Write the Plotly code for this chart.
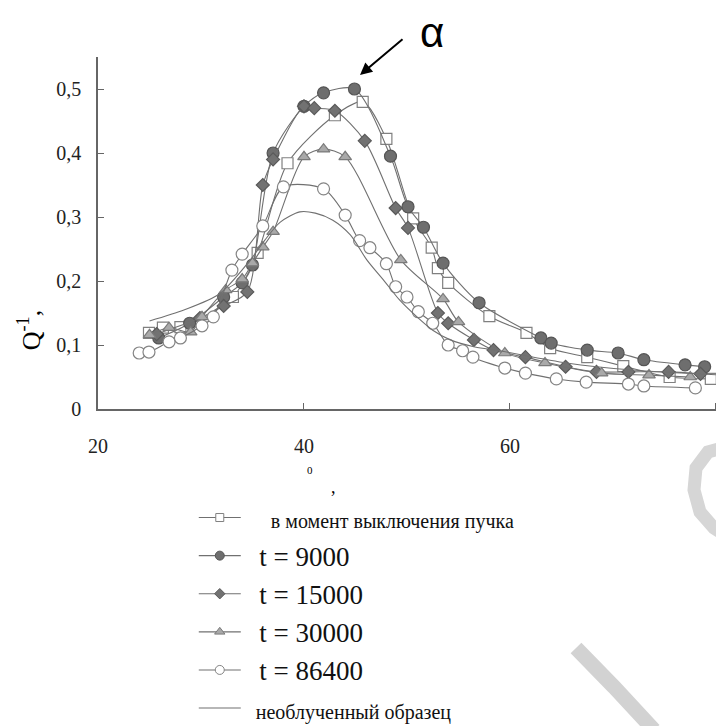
import plotly.graph_objects as go

# ---------------- data ----------------
sq_x = [24.95, 26.3, 28.0, 33.1, 35.5, 38.4, 43.0, 45.7, 48.0, 50.6, 52.4, 53.0, 54.0, 58.0, 61.6, 63.9, 67.5, 71.0, 75.5, 79.5]
sq_y = [0.119, 0.127, 0.128, 0.175, 0.244, 0.384, 0.459, 0.480, 0.422, 0.298, 0.252, 0.220, 0.197, 0.145, 0.119, 0.095, 0.081, 0.067, 0.050, 0.047]

c9_x = [25.9, 28.9, 32.2, 34.0, 35.0, 37.0, 40.0, 41.9, 44.9, 48.4, 50.1, 51.6, 53.5, 57.0, 63.0, 64.0, 67.5, 70.5, 73.0, 77.0, 78.9]
c9_y = [0.111, 0.134, 0.175, 0.197, 0.225, 0.400, 0.473, 0.494, 0.500, 0.395, 0.316, 0.284, 0.228, 0.166, 0.111, 0.103, 0.092, 0.0875, 0.077, 0.069, 0.066]

d15_x = [25.7, 29.9, 32.2, 34.5, 36.0, 37.0, 40.0, 41.0, 43.0, 45.9, 48.9, 50.1, 53.0, 54.0, 56.5, 58.4, 61.5, 65.4, 68.4, 71.5, 75.4, 78.5]
d15_y = [0.117, 0.142, 0.161, 0.183, 0.350, 0.390, 0.473, 0.470, 0.466, 0.419, 0.314, 0.283, 0.150, 0.134, 0.108, 0.092, 0.081, 0.066, 0.058, 0.058, 0.058, 0.055]

t30_x = [25.0, 26.9, 29.0, 30.1, 32.4, 34.0, 35.0, 36.0, 37.0, 40.0, 41.9, 44.0, 49.4, 53.5, 55.0, 59.5, 63.4, 68.9, 73.5, 77.5]
t30_y = [0.116, 0.127, 0.120, 0.144, 0.186, 0.203, 0.228, 0.253, 0.277, 0.394, 0.406, 0.394, 0.233, 0.172, 0.136, 0.0875, 0.072, 0.056, 0.053, 0.050]

o86_x = [24.0, 24.95, 26.9, 28.0, 30.1, 31.2, 33.0, 34.0, 36.0, 38.0, 41.9, 44.0, 45.4, 46.4, 48.0, 48.9, 50.0, 51.1, 52.5, 54.0, 55.4, 56.4, 59.5, 61.5, 64.5, 67.4, 71.5, 73.0, 78.0]
o86_y = [0.0875, 0.089, 0.105, 0.111, 0.130, 0.144, 0.217, 0.242, 0.286, 0.347, 0.344, 0.303, 0.263, 0.252, 0.227, 0.191, 0.175, 0.152, 0.134, 0.100, 0.091, 0.081, 0.064, 0.056, 0.047, 0.042, 0.039, 0.036, 0.033]

ref_x = [25.0, 28.4, 31.8, 34.8, 36.2, 37.7, 39.6, 41.1, 42.8, 44.5, 46.1, 47.9, 49.3, 51.1, 52.5, 54.2, 56.6, 59.0, 65.5, 71.9, 80.8]
ref_y = [0.1375, 0.155, 0.180, 0.233, 0.264, 0.292, 0.308, 0.306, 0.295, 0.272, 0.233, 0.198, 0.170, 0.142, 0.123, 0.108, 0.097, 0.091, 0.072, 0.061, 0.053]

names = ["в момент выключения пучка", "t = 9000", "t = 15000", "t = 30000", "t = 86400", "необлученный образец"]
x_ticks = [20, 40, 60, 80]
y_ticks = [0, 0.1, 0.2, 0.3, 0.4, 0.5]
y_ticktext = ["0", "0,1", "0,2", "0,3", "0,4", "0,5"]

LINE = "#707070"
SERIF = "Liberation Serif"

def legname(text, size, pad):
    return ("<span style='font-family:Liberation Serif;font-size:%dpx'>" % size) + "&nbsp;" * pad + text + "</span>"

fig = go.Figure()

def add(x, y, name, symbol=None, fill=None, edge=None, size=11, legsize=8):
    mode = "lines+markers" if symbol else "lines"
    kw, kwl = {}, {}
    if symbol:
        kw["marker"] = dict(symbol=symbol, size=size, color=fill, line=dict(color=edge, width=1.2))
        kwl["marker"] = dict(symbol=symbol, size=legsize, color=fill, line=dict(color=edge, width=1))
    line = dict(color=LINE, width=1.1, shape="spline", smoothing=0.8)
    # data trace
    fig.add_trace(go.Scatter(x=x, y=y, mode=mode, line=line, showlegend=False, **kw))
    # legend entry (smaller glyph, as in the original legend)
    fig.add_trace(go.Scatter(x=[None], y=[None], name=name, mode=mode, line=line, showlegend=True, **kwl))

add(sq_x, sq_y, legname(names[0], 20, 5), "square", "white", "#808080", 11, 8)
add(c9_x, c9_y, legname(names[1], 27, 2), "circle", "#6e6e6e", "#555555", 12, 9)
add(d15_x, d15_y, legname(names[2], 27, 2), "diamond", "#727272", "#5a5a5a", 10, 8)
add(t30_x, t30_y, legname(names[3], 27, 2), "triangle-up", "#a9a9a9", "#7a7a7a", 11, 9)
add(o86_x, o86_y, legname(names[4], 27, 2), "circle", "white", "#858585", 12, 9)
add(ref_x, ref_y, legname(names[5], 20, 2))

# arrow and alpha
fig.add_annotation(x=45.44, y=0.522, xref="x", yref="y", ax=44, ay=-37, text="",
                   showarrow=True, arrowhead=2, arrowsize=1.2, arrowwidth=2, arrowcolor="black")
fig.add_annotation(x=0.5335, y=1.070, xref="paper", yref="paper", text="α", showarrow=False,
                   xanchor="center", yanchor="middle",
                   font=dict(family="Liberation Sans", size=42, color="black"))

# axis titles (fragmentary, as in original)
fig.add_annotation(x=-0.110, y=0.224, xref="paper", yref="paper", text="Q<sup>-1</sup>,", textangle=-90,
                   xanchor="center", yanchor="middle",
                   showarrow=False, font=dict(family=SERIF, size=26, color="black"))
fig.add_annotation(x=0.3387, y=-0.1733, xref="paper", yref="paper", text="0", showarrow=False,
                   xanchor="center", yanchor="middle",
                   font=dict(family=SERIF, size=11, color="black"))
fig.add_annotation(x=0.3754, y=-0.2216, xref="paper", yref="paper", text=",", showarrow=False,
                   xanchor="center", yanchor="middle",
                   font=dict(family=SERIF, size=18, color="black"))

# light watermark strokes (paper coordinates of the plot area)
def px2paper(px, py):
    return (px - 98) / 626.0, (409 - py) / 352.0

def path(points):
    parts = []
    for i, (a, b) in enumerate(points):
        u, v = px2paper(a, b)
        parts.append(("M" if i == 0 else "L") + " %.4f,%.4f" % (u, v))
    return " ".join(parts)

fig.add_shape(type="path", xref="paper", yref="paper", layer="below",
              path=path([(576, 648), (614, 687), (654, 730)]),
              line=dict(color="#d2d2d2", width=15))
fig.add_shape(type="path", xref="paper", yref="paper", layer="below",
              path=path([(730, 446), (708, 452), (696, 468), (694, 490), (700, 512), (714, 528), (730, 538)]),
              line=dict(color="#d6d6d6", width=13))

fig.update_layout(
    width=716, height=718,
    margin=dict(l=90, r=0, t=49, b=317, autoexpand=False),
    paper_bgcolor="white", plot_bgcolor="white",
    font=dict(family=SERIF, size=20, color="#222222"),
    showlegend=True,
    legend=dict(x=0.153, y=-0.24, xanchor="left", yanchor="top",
                font=dict(family=SERIF, size=27, color="#111111"),
                itemwidth=42, bgcolor="rgba(0,0,0,0)", tracegroupgap=0),
    xaxis=dict(range=[20, 80.78], tickvals=x_ticks, ticks="inside", ticklen=6, tickcolor="#666666",
               showline=True, linecolor="#666666", linewidth=1.5, showgrid=False, zeroline=False,
               automargin=False, ticklabelstandoff=18,
               tickfont=dict(family=SERIF, size=20, color="#222222")),
    yaxis=dict(range=[0, 0.55], tickvals=y_ticks, ticktext=y_ticktext, ticks="inside", ticklen=6,
               tickcolor="#666666", showline=True, linecolor="#666666", linewidth=1.5, showgrid=False,
               zeroline=False, automargin=False, ticklabelstandoff=11,
               tickfont=dict(family=SERIF, size=20, color="#222222")),
)

fig.write_html("out.html")
